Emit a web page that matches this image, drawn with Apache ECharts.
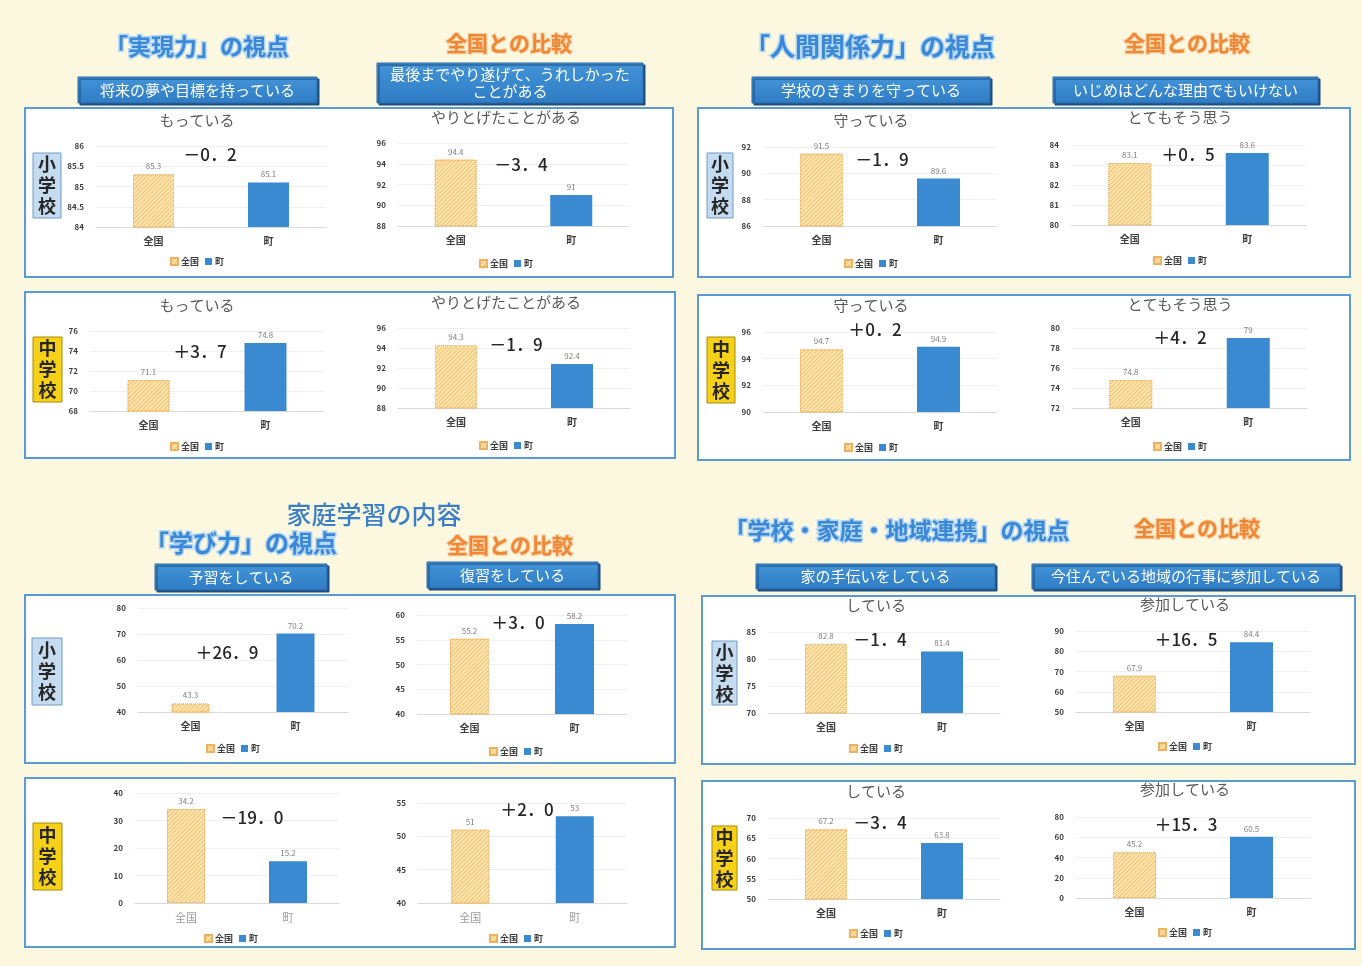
<!DOCTYPE html>
<html lang="ja">
<head>
<meta charset="utf-8">
<title>全国との比較</title>
<script src="https://cdn.jsdelivr.net/npm/echarts@6/dist/echarts.min.js"></script>
<style>
  html, body { margin: 0; padding: 0; background: #fcf7df; }
  #main { width: 1362px; height: 966px; }
</style>
</head>
<body>
<div id="main"></div>
<script>
// ---- data ----
const categories = ['全国', '町'];
const chartTitles = [
  'もっている', 'やりとげたことがある', 'もっている', 'やりとげたことがある',
  '守っている', 'とてもそう思う', '守っている', 'とてもそう思う',
  '', '', '', '',
  'している', '参加している', 'している', '参加している'
];
const nationalValues = [85.3, 94.4, 71.1, 94.3, 91.5, 83.1, 94.7, 74.8, 43.3, 55.2, 34.2, 51, 82.8, 67.9, 67.2, 45.2];
const townValues = [85.1, 91.0, 74.8, 92.4, 89.6, 83.6, 94.9, 79, 70.2, 58.2, 15.2, 53, 81.4, 84.4, 63.8, 60.5];
const yMin = [84, 88, 68, 88, 86, 80, 90, 72, 40, 40, 0, 40, 70, 50, 50, 0];
const yMax = [86, 96, 76, 96, 92, 84, 96, 80, 80, 60, 40, 55, 85, 90, 70, 80];
const yStep = [0.5, 2, 2, 2, 2, 1, 2, 2, 10, 5, 10, 5, 5, 10, 5, 20];

const headings = ['「実現力」の視点', '「人間関係力」の視点', '「学び力」の視点', '「学校・家庭・地域連携」の視点'];
const compareHeading = '全国との比較';
const homeStudyHeading = '家庭学習の内容';
const questionLabels = [
  '将来の夢や目標を持っている',
  '最後までやり遂げて、うれしかった\nことがある',
  '学校のきまりを守っている',
  'いじめはどんな理由でもいけない',
  '予習をしている',
  '復習をしている',
  '家の手伝いをしている',
  '今住んでいる地域の行事に参加している'
];
const schoolLabels = ['小\n学\n校', '中\n学\n校'];

// ---- layout (px) ----
const FONT = '"Noto Sans CJK JP", "Noto Sans", sans-serif';
const layout = [
  { grid: [96, 146, 230, 81], cx: 197, ty: 123, ly: 263, diff: [210, 155], bw: 41 },
  { grid: [398, 143, 231, 83], cx: 506, ty: 120, ly: 265, diff: [521, 165], bw: 42 },
  { grid: [90, 331, 234, 80], cx: 197, ty: 308, ly: 448, diff: [200, 352], bw: 42 },
  { grid: [398, 328, 232, 80], cx: 506, ty: 305, ly: 447, diff: [516, 345], bw: 42 },
  { grid: [763, 147, 234, 79], cx: 871, ty: 123, ly: 265, diff: [882, 160], bw: 43 },
  { grid: [1071, 145, 235, 80], cx: 1180, ty: 120, ly: 262, diff: [1188, 155], bw: 43 },
  { grid: [763, 332, 234, 80], cx: 871, ty: 308, ly: 449, diff: [875, 330], bw: 43 },
  { grid: [1072, 328, 235, 80], cx: 1180, ty: 307, ly: 448, diff: [1180, 338], bw: 43 },
  { grid: [138, 608, 210, 104], cx: 233, ly: 750, diff: [227, 653], bw: 38 },
  { grid: [417, 615, 210, 99], cx: 516, ly: 753, diff: [518, 623], bw: 39 },
  { grid: [135, 793, 204, 110], cx: 231, ly: 940, diff: [252, 818], bw: 38, light: true },
  { grid: [418, 803, 209, 100], cx: 516, ly: 940, diff: [527, 810], bw: 38, light: true },
  { grid: [768, 632, 232, 81], cx: 876, ty: 608, ly: 750, diff: [880, 640], bw: 42 },
  { grid: [1076, 631, 234, 81], cx: 1185, ty: 607, ly: 748, diff: [1186, 640], bw: 43 },
  { grid: [768, 818, 232, 81], cx: 876, ty: 794, ly: 935, diff: [880, 823], bw: 42 },
  { grid: [1076, 817, 234, 81], cx: 1185, ty: 792, ly: 934, diff: [1186, 825], bw: 43 }
];
const panelBoxes = [
  [25, 108, 648, 169], [25, 292, 650, 166], [698, 108, 652, 169], [698, 295, 652, 165],
  [25, 595, 650, 168], [25, 778, 650, 169], [702, 596, 653, 168], [702, 781, 653, 168]
];
const labelBoxes = [
  [78, 77, 239, 26], [377, 63, 266, 40], [752, 77, 238, 26], [1053, 77, 265, 26],
  [155, 564, 172, 26], [427, 562, 171, 26], [756, 564, 239, 25], [1032, 564, 308, 25]
];
const headingPos = [[197, 46, 23], [870, 46, 25], [241, 543, 24], [897, 530, 23]];
const comparePos = [[509, 43], [1187, 43], [510, 545], [1197, 528]];
// [x, y, w, h, which school]
const schoolTags = [
  [33, 153, 28, 65, 0], [33, 337, 29, 65, 1], [707, 153, 26, 65, 0], [707, 337, 28, 66, 1],
  [32, 638, 30, 67, 0], [33, 823, 29, 67, 1], [712, 641, 25, 64, 0], [712, 826, 25, 64, 1]
];

const hatch = {
  symbol: 'rect',
  symbolSize: 1,
  dashArrayX: [1, 0],
  dashArrayY: [1, 2],
  rotation: -Math.PI / 4,
  color: 'rgba(226, 160, 70, 0.5)'
};

function diffText(i) {
  const d = townValues[i] - nationalValues[i];
  return (d >= 0 ? '＋' : '－') + Math.abs(d).toFixed(1).replace('.', '．');
}

const grid = [], xAxis = [], yAxis = [], series = [], legend = [], title = [], graphic = [];

panelBoxes.forEach(b => {
  graphic.push({
    type: 'rect', z: -10, silent: true,
    shape: { x: b[0], y: b[1], width: b[2], height: b[3] },
    style: { fill: '#ffffff', stroke: '#5b9bd5', lineWidth: 2 }
  });
});

labelBoxes.forEach((b, i) => {
  graphic.push({
    type: 'rect', z: 5, silent: true,
    shape: { x: b[0], y: b[1], width: b[2], height: b[3] },
    style: {
      fill: new echarts.graphic.LinearGradient(0, 0, 0, 1, [
        { offset: 0, color: '#4394d8' },
        { offset: 1, color: '#2f7cc4' }
      ]),
      stroke: '#2a68a6', lineWidth: 1,
      shadowColor: '#1d4f80', shadowOffsetX: 2, shadowOffsetY: 2, shadowBlur: 0
    }
  });
  graphic.push({
    type: 'text', z: 6, silent: true,
    x: b[0] + b[2] / 2, y: b[1] + b[3] / 2,
    style: {
      text: questionLabels[i], fill: '#ffffff', font: '15px ' + FONT,
      align: 'center', verticalAlign: 'middle', lineHeight: 17
    }
  });
});

headingPos.forEach((p, i) => {
  graphic.push({
    type: 'text', z: 6, silent: true, x: p[0], y: p[1],
    style: {
      text: headings[i], fill: '#3a88d6', stroke: '#b3d6f5', lineWidth: 3,
      font: 'bold ' + p[2] + 'px ' + FONT, align: 'center', verticalAlign: 'middle'
    }
  });
});
comparePos.forEach(p => {
  graphic.push({
    type: 'text', z: 6, silent: true, x: p[0], y: p[1],
    style: {
      text: compareHeading, fill: '#ee8835', stroke: '#f9cfa6', lineWidth: 2,
      font: 'bold 21px ' + FONT, align: 'center', verticalAlign: 'middle'
    }
  });
});
graphic.push({
  type: 'text', z: 6, silent: true, x: 374, y: 514,
  style: {
    text: homeStudyHeading, fill: '#3b7fc8', font: '500 25px ' + FONT,
    align: 'center', verticalAlign: 'middle'
  }
});

schoolTags.forEach(t => {
  const mid = t[4] === 1;
  graphic.push({
    type: 'rect', z: 5, silent: true,
    shape: { x: t[0], y: t[1], width: t[2], height: t[3] },
    style: { fill: mid ? '#f7d117' : '#c4dbf0', stroke: mid ? '#a38a10' : '#6f9cc9', lineWidth: 1 }
  });
  graphic.push({
    type: 'text', z: 6, silent: true,
    x: t[0] + t[2] / 2, y: t[1] + t[3] / 2,
    style: {
      text: schoolLabels[t[4]], fill: '#262626', font: 'bold 18px ' + FONT,
      align: 'center', verticalAlign: 'middle', lineHeight: 21
    }
  });
});

layout.forEach((l, i) => {
  grid.push({ left: l.grid[0], top: l.grid[1], width: l.grid[2], height: l.grid[3] });
  xAxis.push({
    gridIndex: i, type: 'category', data: categories,
    axisTick: { show: false },
    axisLine: { lineStyle: { color: '#d9d9d9' } },
    axisLabel: l.light
      ? { fontSize: 11, color: '#9a9a9a', margin: 9 }
      : { fontSize: 10, fontWeight: 'bold', color: '#404040', margin: 9 }
  });
  yAxis.push({
    gridIndex: i, type: 'value', min: yMin[i], max: yMax[i], interval: yStep[i],
    axisLine: { show: false }, axisTick: { show: false },
    axisLabel: { fontSize: 8, fontWeight: 'bold', color: '#404040', margin: 12 },
    splitLine: { lineStyle: { color: '#efefef' } }
  });
  series.push({
    type: 'bar', name: '全国', xAxisIndex: i, yAxisIndex: i,
    data: [nationalValues[i], '-'], barWidth: l.bw, barGap: '-100%',
    itemStyle: { color: '#fde5ac', borderColor: '#f0b060', borderWidth: 1, borderType: 'dotted', decal: hatch },
    label: { show: true, position: 'top', fontSize: 8, color: '#7f7f7f', distance: 4 }
  });
  series.push({
    type: 'bar', name: '町', xAxisIndex: i, yAxisIndex: i,
    data: ['-', townValues[i]], barWidth: l.bw, barGap: '-100%',
    itemStyle: { color: '#3a8ad2' },
    label: { show: true, position: 'top', fontSize: 8, color: '#7f7f7f', distance: 4 }
  });
  legend.push({
    data: categories, left: l.cx - 27, top: l.ly - 6, padding: 0,
    itemWidth: 7, itemHeight: 7, itemGap: 6, icon: 'rect',
    textStyle: { fontSize: 9, fontWeight: 'bold', color: '#404040', padding: [0, 0, 0, -2] }
  });
  if (chartTitles[i]) {
    title.push({
      text: chartTitles[i], left: l.cx, top: l.ty - 10, textAlign: 'center', padding: 0,
      textStyle: { fontSize: 15, fontWeight: 'normal', color: '#595959' }
    });
  }
  graphic.push({
    type: 'text', z: 10, silent: true, x: l.diff[0], y: l.diff[1],
    style: {
      text: diffText(i), fill: '#262626', font: '500 17px ' + FONT,
      align: 'center', verticalAlign: 'middle'
    }
  });
});

const chart = echarts.init(document.getElementById('main'));
chart.setOption({
  backgroundColor: '#fcf7df',
  animation: false,
  textStyle: { fontFamily: FONT },
  title, legend, grid, xAxis, yAxis, series, graphic
});
window.addEventListener('resize', () => chart.resize());
</script>
</body>
</html>
